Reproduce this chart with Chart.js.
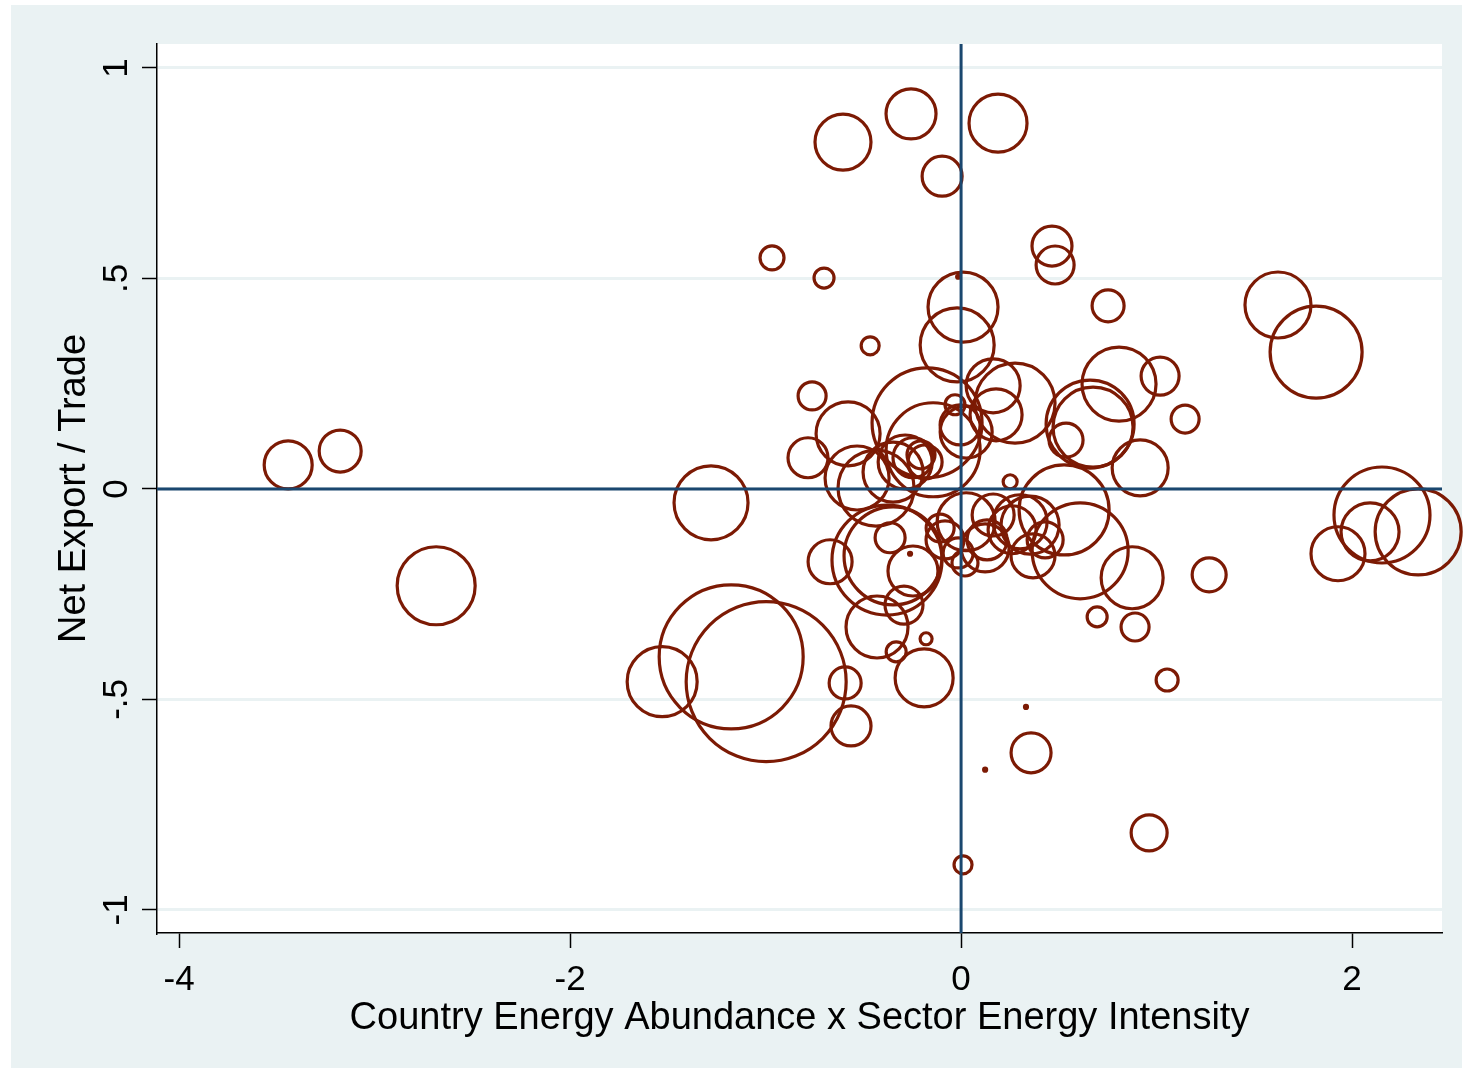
<!DOCTYPE html>
<html>
<head>
<meta charset="utf-8">
<title>Net Export / Trade vs Energy Abundance</title>
<script src="https://cdn.jsdelivr.net/npm/chart.js@4.4.1/dist/chart.umd.min.js"></script>
<style>
    html, body { margin: 0; padding: 0; background: #ffffff; }
    #wrap { width: 1463px; height: 1072px; }
</style>
</head>
<body>
<div id="wrap"><canvas id="chart" width="1463" height="1072"></canvas></div>
<script>
// country energy abundance x sector energy intensity
const xValues = [
    -3.442, -3.176, -2.685, -1.279, -1.529, -1.176, -0.997, -0.593, -0.563, -0.189,
    -0.179, -0.332, -0.430, -0.292, -0.670, -0.604, -0.256, 0.189, -0.097, -0.967,
    -0.701, -0.465, -0.762, -0.578, -0.783, 0.465, 0.481, 0.752, 1.621, 1.816,
    1.018, 1.146, 0.808, 0.916, 0.875, 1.269, 2.153, 2.338, 2.092, 1.928,
    1.054, 0.358, 0.962, 0.010, 0.696, 0.890, 0.609, 0.527, -0.020, 0.010,
    0.164, 0.179, 0.276, -0.031, 0.026, 0.660, 0.675, 0.537, 0.251, -0.174,
    -0.143, -0.532, -0.435, -0.205, -0.246, -0.286, -0.184, -0.348, -0.379, -0.348,
    -0.363, -0.246, -0.082, -0.107, 0.026, -0.015, 0.020, 0.133, 0.164, 0.123,
    0.261, 0.302, 0.353, 0.368, 0.430, 0.123, 0.332, -0.261, -0.015, -0.005
];
// net export / trade
const yValues = [
    0.057, 0.090, -0.230, -0.033, -0.458, -0.399, -0.458, -0.461, -0.563, -0.449,
    -0.356, -0.387, -0.328, -0.276, -0.173, 0.824, 0.891, 0.869, 0.743, 0.549,
    0.501, 0.340, 0.221, 0.131, 0.074, 0.577, 0.532, 0.435, 0.437, 0.325,
    0.268, 0.166, 0.249, 0.050, -0.211, -0.204, -0.062, -0.102, -0.102, -0.154,
    -0.454, -0.627, -0.817, -0.893, -0.304, -0.328, -0.147, -0.050, 0.342, 0.432,
    0.245, 0.176, 0.204, 0.200, 0.135, 0.154, 0.147, 0.116, 0.017, 0.157,
    0.093, 0.026, 0.002, 0.081, 0.074, 0.064, 0.064, 0.040, -0.169, -0.159,
    -0.116, -0.195, -0.121, -0.093, -0.078, -0.152, -0.176, -0.121, -0.062, -0.140,
    -0.097, -0.078, -0.086, -0.159, -0.121, -0.667, -0.518, -0.154, 0.504, 0.152
];
// bubble size (weight), drawn as radius
const sizes = [
    24, 21, 39, 37, 35, 72, 80, 16, 20, 29,
    6, 10, 31, 19, 22, 28, 25, 29, 20, 12,
    10, 9, 14, 32, 20, 20, 19, 16, 33, 46,
    19, 14, 37, 28, 31, 17, 48, 43, 29, 27,
    11, 20, 18, 9, 10, 14, 48, 45, 37, 35,
    27, 26, 40, 10, 26, 44, 40, 17, 7, 55,
    47, 32, 38, 14, 20, 27, 17, 30, 55, 49,
    15, 25, 19, 14, 29, 15, 13, 20, 21, 24,
    24, 27, 29, 22, 18, 1.5, 1.5, 1.5, 1.5, 20
];

const xTicks = [-4, -2, 0, 2];
const xTickLabels = ['-4', '-2', '0', '2'];
const yTicks = [-1, -0.5, 0, 0.5, 1];
const yTickLabels = ['-1', '-.5', '0', '.5', '1'];
const xTitle = 'Country Energy Abundance x Sector Energy Intensity';
const yTitle = 'Net Export / Trade';

const points = xValues.map((x, i) => ({x, y: yValues[i], r: sizes[i]}));

const TICK_FONT = '35px "Liberation Sans", Arial, sans-serif';
const TITLE_FONT = '38px "Liberation Sans", Arial, sans-serif';
const bgGray = '#eaf2f3';
const navy = '#1a476f';

const backdrop = {
    id: 'backdrop',
    beforeDraw(chart) {
        const {ctx, chartArea: a} = chart;
        ctx.save();
        ctx.fillStyle = '#ffffff';
        ctx.fillRect(0, 0, chart.width, chart.height);
        ctx.fillStyle = bgGray;
        ctx.fillRect(11, 5, chart.width - 12, chart.height - 9);
        ctx.fillStyle = '#ffffff';
        ctx.fillRect(a.left, a.top, a.right - a.left, a.bottom - a.top);
        ctx.restore();
    }
};

const refLines = {
    id: 'refLines',
    afterDatasetsDraw(chart) {
        const {ctx, chartArea: a, scales: {x, y}} = chart;
        const x0 = x.getPixelForValue(0);
        const y0 = y.getPixelForValue(0);
        ctx.save();
        ctx.strokeStyle = navy;
        ctx.lineWidth = 3;
        ctx.beginPath();
        ctx.moveTo(x0, a.top);
        ctx.lineTo(x0, a.bottom);
        ctx.moveTo(a.left, y0);
        ctx.lineTo(a.right, y0);
        ctx.stroke();
        ctx.restore();
    }
};

const axisText = {
    id: 'axisText',
    afterDraw(chart) {
        const {ctx, chartArea: a, scales: {x, y}} = chart;
        ctx.save();
        ctx.fillStyle = '#000000';
        ctx.textAlign = 'center';
        ctx.textBaseline = 'alphabetic';

        ctx.font = TICK_FONT;
        xTicks.forEach((v, i) => {
            ctx.fillText(xTickLabels[i], x.getPixelForValue(v), a.bottom + 57);
        });
        yTicks.forEach((v, i) => {
            ctx.save();
            ctx.translate(a.left - 30, y.getPixelForValue(v));
            ctx.rotate(-Math.PI / 2);
            ctx.fillText(yTickLabels[i], 0, 0);
            ctx.restore();
        });

        ctx.font = TITLE_FONT;
        ctx.fillText(xTitle, (a.left + a.right) / 2, a.bottom + 96);
        ctx.translate(a.left - 72, (a.top + a.bottom) / 2);
        ctx.rotate(-Math.PI / 2);
        ctx.fillText(yTitle, 0, 0);
        ctx.restore();
    }
};

new Chart(document.getElementById('chart').getContext('2d'), {
    type: 'bubble',
    data: {
        datasets: [{
            data: points,
            backgroundColor: 'rgba(0,0,0,0)',
            borderColor: '#7c1a04',
            borderWidth: 3.2,
            hoverBorderWidth: 3.2,
            clip: false
        }]
    },
    options: {
        responsive: false,
        animation: false,
        devicePixelRatio: 1,
        layout: {autoPadding: false, padding: {left: 0, top: 44, right: 21, bottom: 0}},
        plugins: {legend: {display: false}, tooltip: {enabled: false}},
        events: [],
        scales: {
            x: {
                type: 'linear',
                min: -4.113,
                max: 2.460,
                afterBuildTicks: s => { s.ticks = xTicks.map(v => ({value: v})); },
                afterFit: s => { s.height = 139; },
                ticks: {display: false},
                grid: {drawOnChartArea: false, tickLength: 15, tickColor: '#000', tickWidth: 1.5},
                border: {display: true, color: '#000', width: 1.5}
            },
            y: {
                type: 'linear',
                min: -1.055,
                max: 1.057,
                afterBuildTicks: s => { s.ticks = yTicks.map(v => ({value: v})); },
                afterFit: s => { s.width = 157; },
                ticks: {display: false},
                grid: {color: bgGray, lineWidth: 3, tickLength: 15, tickColor: '#000', tickWidth: 1.5},
                border: {display: true, color: '#000', width: 1.5}
            }
        }
    },
    plugins: [backdrop, refLines, axisText]
});
</script>
</body>
</html>
